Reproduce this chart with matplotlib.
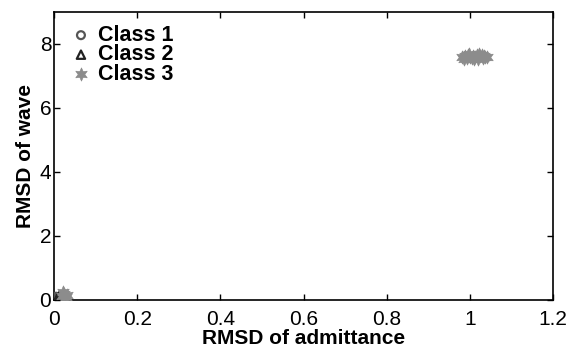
import matplotlib
matplotlib.use("Agg")
import matplotlib.pyplot as plt

plt.rcParams['font.family'] = ['Liberation Sans', 'DejaVu Sans']

# Class 1: near origin (open circles)
c1_x = [0.002, 0.004, 0.006, 0.008, 0.010, 0.005, 0.003, 0.007, 0.009, 0.012]
c1_y = [0.02, 0.05, 0.08, 0.03, 0.06, 0.10, 0.04, 0.07, 0.01, 0.09]
# Class 2: near origin (open triangles)
c2_x = [0.008, 0.012, 0.015, 0.018, 0.010, 0.014, 0.020, 0.016]
c2_y = [0.05, 0.10, 0.08, 0.12, 0.03, 0.15, 0.09, 0.06]
# Class 3: mostly a cluster near (1.0, 7.6), a few near origin (filled hexagram stars)
c3_x = [0.982, 0.988, 0.992, 0.996, 1.000, 1.004, 1.008, 1.012, 1.016, 1.020,
        1.024, 1.028, 1.032, 1.036, 1.040, 0.985, 0.998, 1.010, 1.022, 1.034,
        0.020, 0.025, 0.030, 0.022, 0.028]
c3_y = [7.58, 7.62, 7.55, 7.65, 7.60, 7.57, 7.63, 7.59, 7.66, 7.54,
        7.61, 7.64, 7.56, 7.60, 7.58, 7.52, 7.67, 7.53, 7.68, 7.62,
        0.12, 0.20, 0.15, 0.25, 0.08]

xticks = [0, 0.2, 0.4, 0.6, 0.8, 1, 1.2]
xticklabels = ['0', '0.2', '0.4', '0.6', '0.8', '1', '1.2']
yticks = [0, 2, 4, 6, 8]

fig = plt.figure(figsize=(5.81, 3.5), dpi=100)
ax = fig.add_axes([0.093, 0.143, 0.859, 0.823])

star = (6, 1, 0)
ax.scatter(c1_x, c1_y, marker='o', s=32, facecolors='none', edgecolors='#555555',
           linewidths=1.6, label='Class 1', zorder=3)
ax.scatter(c2_x, c2_y, marker='^', s=36, facecolors='none', edgecolors='#222222',
           linewidths=1.6, label='Class 2', zorder=3)
ax.scatter(c3_x, c3_y, marker=star, s=90, color='#8c8c8c', linewidths=0.5,
           label='Class 3', zorder=4)

ax.set_xlim(0, 1.2)
ax.set_ylim(0, 9)
ax.set_xticks(xticks)
ax.set_xticklabels(xticklabels)
ax.set_yticks(yticks)
ax.tick_params(direction='in', top=True, right=True, labelsize=15, length=4, width=1, pad=2)
ax.tick_params(axis='x', pad=7)
for sp in ax.spines.values():
    sp.set_linewidth(1.2)

ax.set_xlabel('RMSD of admittance', fontsize=15, fontweight='bold', labelpad=0)
ax.set_ylabel('RMSD of wave', fontsize=15, fontweight='bold', labelpad=3)

leg = ax.legend(loc='upper left', frameon=False, prop={'weight': 'bold', 'size': 15.5},
                handletextpad=0.15, borderaxespad=0.3, labelspacing=-0.07, handlelength=1.3,
                borderpad=0.3)

fig.savefig('out.png', dpi=100)
